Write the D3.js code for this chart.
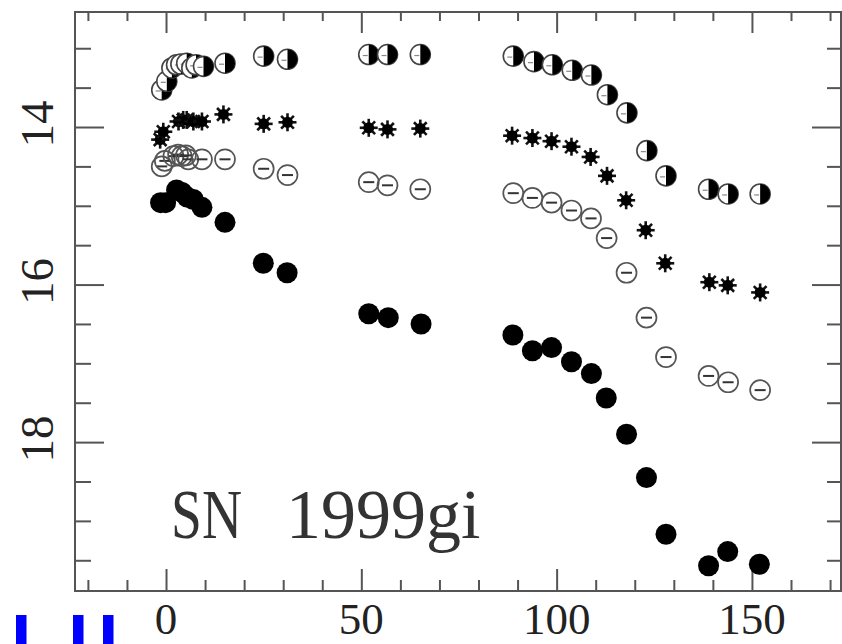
<!DOCTYPE html>
<html><head><meta charset="utf-8">
<script src="https://cdn.jsdelivr.net/npm/d3@7/dist/d3.min.js"></script>
<style>html,body{margin:0;padding:0;background:#fff;} svg{display:block;}</style>
</head><body>
<svg id="c" width="842" height="644"></svg>
<script>
// ---- data (days since discovery, apparent magnitude) ----
const dayTickLabels = [0, 50, 100, 150];
const magTickLabels = [14, 16, 18];
const chartLabel = ["SN", "1999gi"];

const iDays = [-1.1, 0.2, 1.5, 2.7, 3.8, 5.3, 6.6, 7.7, 9.6, 15.1, 25.0, 31.1, 51.9, 56.7, 65.1, 88.9, 94.2, 98.9, 104.0, 108.9, 113.0, 118.0, 123.1, 128.0, 138.9, 143.9, 152.1];
const iMags = [13.53, 13.42, 13.25, 13.21, 13.20, 13.19, 13.25, 13.21, 13.23, 13.19, 13.10, 13.14, 13.08, 13.08, 13.08, 13.10, 13.17, 13.21, 13.28, 13.34, 13.59, 13.82, 14.30, 14.62, 14.79, 14.85, 14.85];

const rDays = [-1.5, -0.7, 3.2, 4.4, 5.3, 7.0, 9.2, 14.7, 25.0, 31.1, 51.9, 56.7, 65.1, 88.6, 93.8, 98.7, 103.8, 108.7, 112.9, 117.8, 122.8, 127.8, 139.1, 143.8, 152.1];
const rMags = [14.16, 14.06, 13.93, 13.91, 13.91, 13.93, 13.93, 13.84, 13.96, 13.94, 14.01, 14.03, 14.02, 14.11, 14.14, 14.18, 14.25, 14.38, 14.62, 14.93, 15.31, 15.73, 15.97, 16.01, 16.10];

const vDays = [-1.1, -0.3, 1.9, 3.1, 4.0, 5.1, 5.7, 9.2, 15.1, 25.0, 31.1, 51.9, 56.7, 65.1, 88.9, 93.8, 98.7, 103.8, 108.8, 112.8, 117.9, 123.0, 128.0, 138.9, 143.9, 152.1];
const vMags = [14.50, 14.43, 14.37, 14.35, 14.37, 14.36, 14.41, 14.41, 14.41, 14.53, 14.61, 14.70, 14.74, 14.79, 14.84, 14.90, 14.96, 15.06, 15.16, 15.41, 15.85, 16.42, 16.92, 17.16, 17.24, 17.34];

const bDays = [-1.4, -0.1, 2.7, 4.1, 5.4, 7.0, 9.2, 15.1, 24.9, 31.0, 51.9, 56.9, 65.3, 88.8, 93.8, 98.7, 103.8, 108.9, 112.7, 117.9, 123.0, 128.0, 138.9, 143.8, 151.9];
const bMags = [14.96, 14.96, 14.80, 14.83, 14.89, 14.92, 15.02, 15.21, 15.73, 15.85, 16.37, 16.42, 16.50, 16.64, 16.84, 16.80, 16.98, 17.13, 17.44, 17.90, 18.45, 19.17, 19.57, 19.39, 19.55];

// ---- layout ----
const L = 75, T = 12, R = 841, B = 591;
const svg = d3.select("#c");
const x = d3.scaleLinear().domain([-23.3, 172.8]).range([L, R]);
const y = d3.scaleLinear().domain([12.54, 19.89]).range([T, B]);
const axisColor = "#555";
const font = "'Liberation Serif','DejaVu Serif',serif";

// frame
svg.append("rect").attr("x", L).attr("y", T).attr("width", R - L).attr("height", B - T)
  .attr("fill", "none").attr("stroke", axisColor).attr("stroke-width", 2);

const xMinor = d3.range(-20, 171, 10).filter(v => v % 50 !== 0);
const yMinor = d3.range(13, 19.6, 0.5).filter(v => v % 2 !== 0);

function addAxis(gen, tx, ty, values, size) {
  const g = svg.append("g").attr("transform", `translate(${tx},${ty})`)
    .call(gen.tickValues(values).tickSize(size).tickFormat(""));
  g.select(".domain").remove();
  g.selectAll("line").attr("stroke", axisColor).attr("stroke-width", 2);
}
// bottom (inward = up)
addAxis(d3.axisTop(x), 0, B, xMinor, 11);
addAxis(d3.axisTop(x), 0, B, dayTickLabels, 22);
// top (inward = down)
addAxis(d3.axisBottom(x), 0, T, xMinor, 9);
addAxis(d3.axisBottom(x), 0, T, dayTickLabels, 21);
// left (inward = right)
addAxis(d3.axisRight(y), L, 0, yMinor, 16);
addAxis(d3.axisRight(y), L, 0, magTickLabels, 29);
// right (inward = left)
addAxis(d3.axisLeft(y), R, 0, yMinor, 14);
addAxis(d3.axisLeft(y), R, 0, magTickLabels, 29);

// tick labels
svg.append("g").selectAll("text").data(dayTickLabels).join("text")
  .attr("x", d => x(d)).attr("y", 634)
  .attr("text-anchor", "middle").attr("font-family", font).attr("font-size", 45)
  .attr("fill", "#222").text(d => d);
svg.append("g").selectAll("text").data(magTickLabels).join("text")
  .attr("transform", d => `translate(53,${y(d) - 3}) rotate(-90)`)
  .attr("text-anchor", "middle").attr("font-family", font).attr("font-size", 47)
  .attr("fill", "#222").text(d => d);

// label
svg.append("text").attr("x", 171).attr("y", 538).attr("font-family", font)
  .attr("font-size", 70).attr("fill", "#333")
  .attr("textLength", 71).attr("lengthAdjust", "spacingAndGlyphs").text(chartLabel[0]);
svg.append("text").attr("x", 286).attr("y", 538).attr("font-family", font)
  .attr("font-size", 70).attr("fill", "#333").text(chartLabel[1]);

// ---- markers ----
const zip = (ds, ms) => ds.map((d, i) => ({ d, m: ms[i] }));
const pos = p => `translate(${x(p.d)},${y(p.m)})`;

// filled circles
svg.append("g").selectAll("circle").data(zip(bDays, bMags)).join("circle")
  .attr("cx", p => x(p.d)).attr("cy", p => y(p.m)).attr("r", 10.5).attr("fill", "#000");

// open circles with bar
const gv = svg.append("g").selectAll("g").data(zip(vDays, vMags)).join("g").attr("transform", pos);
gv.append("circle").attr("r", 10).attr("fill", "none").attr("stroke", "#555").attr("stroke-width", 1.7);
gv.append("line").attr("x1", -5.5).attr("x2", 5.5).attr("stroke", "#333").attr("stroke-width", 2);

// asterisks
const gr = svg.append("g").selectAll("g").data(zip(rDays, rMags)).join("g").attr("transform", pos);
[0, 45, 90, 135].forEach(a => {
  gr.append("line").attr("x1", -9).attr("x2", 9).attr("transform", `rotate(${a})`)
    .attr("stroke", "#111").attr("stroke-width", 2.6);
});
gr.append("circle").attr("r", 5.5).attr("fill", "#000");

// half-filled circles
const gi = svg.append("g").selectAll("g").data(zip(iDays, iMags)).join("g").attr("transform", pos);
gi.append("circle").attr("r", 10).attr("fill", "#fff").attr("stroke", "#444").attr("stroke-width", 1.6);
gi.append("path").attr("d", "M0,-10 A10,10 0 0,1 0,10 Z").attr("fill", "#000");
gi.append("line").attr("x1", -6).attr("x2", -1).attr("y1", 1).attr("y2", 1)
  .attr("stroke", "#888").attr("stroke-width", 1.2);

// blue marks at bottom-left of the picture
svg.append("g").selectAll("rect").data([16, 73, 103]).join("rect")
  .attr("x", d => d).attr("y", 615).attr("width", 10.5).attr("height", 29).attr("fill", "#0000ff");
</script>
</body></html>
